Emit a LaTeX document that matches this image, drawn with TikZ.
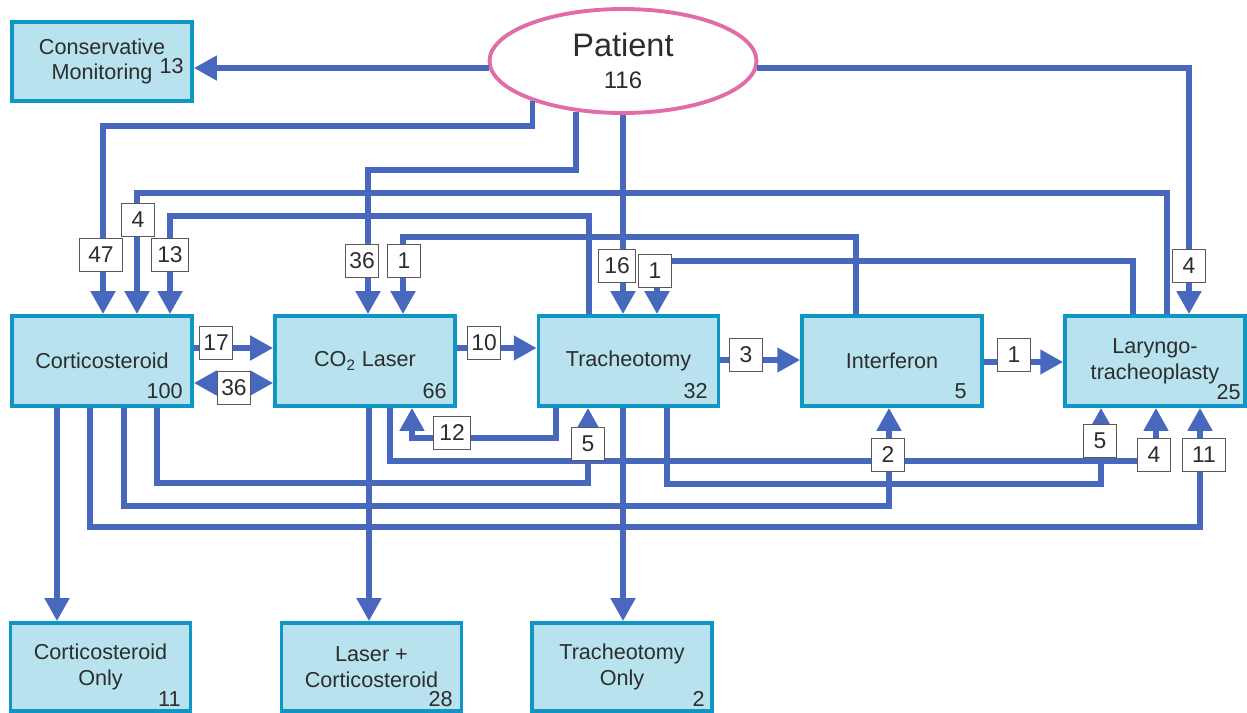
\documentclass[tikz,border=0pt]{standalone}
\usepackage{fontspec}
\setmainfont{Liberation Sans}
\usetikzlibrary{arrows.meta,shapes.geometric}
\definecolor{flowblue}{RGB}{72,104,190}
\definecolor{boxfill}{RGB}{183,226,238}
\definecolor{boxline}{RGB}{16,150,196}
\definecolor{patpink}{RGB}{226,108,168}
\definecolor{txtgray}{RGB}{45,45,45}
\begin{document}
\begin{tikzpicture}[x=0.02cm, y=-0.02cm,
    >={Triangle[width=13.5pt,length=13pt]},
    treat/.style={draw=boxline, fill=boxfill, line width=2.2pt, minimum width=3.6cm,
        minimum height=1.8cm, inner sep=0pt, align=center, text=txtgray,
        font=\fontsize{12.3}{14.7}\selectfont},
    boxnum/.style={anchor=base east, inner sep=0pt, text=txtgray,
        font=\fontsize{12.3}{14.7}\selectfont},
    flow/.style={draw=flowblue, line width=3pt, ->},
    nlabel/.style={draw=black!65, line width=0.6pt, fill=white, minimum width=0.66cm,
        minimum height=0.66cm, inner sep=1pt, text=txtgray,
        font=\fontsize{13}{13}\selectfont}
]
\useasboundingbox (0,0) rectangle (1247,713);

\node[treat, minimum height=1.58cm] (cons) at (102,61.5) {Conservative\\Monitoring};
\node[boxnum] (consn) at (184,74) {13};
\node[ellipse, draw=patpink, fill=white, line width=2.2pt, minimum width=5.34cm,
    minimum height=2.08cm, inner sep=0pt, align=center, text=txtgray,
    font=\fontsize{18.5}{18}\selectfont] (pat) at (623,61)
    {Patient\\{\fontsize{13.6}{13.6}\selectfont 116}};

\node[treat] (cort) at (102,361) {Corticosteroid};
\node[treat] (laser) at (365,361) {CO\textsubscript{2} Laser};
\node[treat] (trach) at (628.5,361) {Tracheotomy};
\node[treat] (intf) at (892,361) {Interferon};
\node[treat] (lary) at (1155,361) {Laryngo-\\tracheoplasty};
\node[boxnum] (cortn) at (183,398) {100};
\node[boxnum] (lasern) at (447,398) {66};
\node[boxnum] (trachn) at (708,398) {32};
\node[boxnum] (intfn) at (967,398) {5};
\node[boxnum] (laryn) at (1241,399) {25};

\node[treat, minimum height=1.76cm] (cortonly) at (100.5,667) {Corticosteroid\\Only};
\node[treat, minimum height=1.76cm] (lasercort) at (371.5,667) {Laser +\\Corticosteroid};
\node[treat, minimum height=1.76cm] (trachonly) at (622,667) {Tracheotomy\\Only};
\node[boxnum] (cortonlyn) at (181,706) {11};
\node[boxnum] (lasercortn) at (453,706) {28};
\node[boxnum] (trachonlyn) at (705,706) {2};

\draw[flow] (pat.183) -- (cons.east |- pat.183);
\draw[flow] (pat.-3) -| (lary.north -| 1189,0);
\draw[flow] (pat.204) |- (103,126) -- (cort.north -| 103,0);
\draw[flow] (lary.north -| 1167,0) |- (137,193) -- (cort.north -| 137,0);
\draw[flow] (trach.north -| 589,0) |- (170,216) -- (cort.north -| 170,0);
\draw[flow] (pat.227) |- (368,170) -- (laser.north -| 368,0);
\draw[flow] (intf.north -| 856,0) |- (403,237) -- (laser.north -| 403,0);
\draw[flow] (pat.south) -- (trach.north -| pat.south);
\draw[flow] (lary.north -| 1133,0) |- (657,261) -- (trach.north -| 657,0);

\draw[flow] (cort.east |- 0,348) -- (laser.west |- 0,348);
\draw[flow, <->] (cort.east |- 0,383) -- (laser.west |- 0,383);
\draw[flow] (laser.east |- 0,348) -- (trach.west |- 0,348);
\draw[flow] (trach.east |- 0,360) -- (intf.west |- 0,360);
\draw[flow] (intf.east |- 0,362) -- (lary.west |- 0,362);

\draw[flow] (cort.south -| 57,0) -- (cortonly.north -| 57,0);
\draw[flow] (laser.south -| 369,0) -- (lasercort.north -| 369,0);
\draw[flow] (trach.south -| 623,0) -- (trachonly.north -| 623,0);
\draw[flow] (trach.south -| 556,0) |- (412,438) -- (laser.south -| 412,0);
\draw[flow] (cort.south -| 157,0) |- (588,483) -- (trach.south -| 588,0);
\draw[flow] (cort.south -| 124,0) |- (889,506) -- (intf.south -| 889,0);
\draw[flow] (cort.south -| 90,0) |- (1200,527) -- (lary.south -| 1200,0);
\draw[flow] (trach.south -| 667,0) |- (1101,484) -- (lary.south -| 1101,0);
\draw[flow] (laser.south -| 390,0) |- (1156,461) -- (lary.south -| 1156,0);

\node[nlabel, minimum width=0.86cm] (l47) at (101,255) {47};
\node[nlabel] (l4a) at (138,220) {4};
\node[nlabel, minimum width=0.74cm] (l13) at (170,255) {13};
\node[nlabel] (l36a) at (362,261) {36};
\node[nlabel] (l1a) at (404,261) {1};
\node[nlabel, minimum width=0.74cm] (l16) at (617,266) {16};
\node[nlabel] (l1b) at (655,271) {1};
\node[nlabel] (l4b) at (1189,266) {4};
\node[nlabel] (l17) at (216,343) {17};
\node[nlabel] (l36b) at (234,388) {36};
\node[nlabel] (l10) at (484,343) {10};
\node[nlabel] (l3) at (746,355) {3};
\node[nlabel] (l1c) at (1014,355) {1};
\node[nlabel, minimum width=0.74cm] (l12) at (452,433) {12};
\node[nlabel] (l5a) at (588,444) {5};
\node[nlabel] (l2) at (888,455) {2};
\node[nlabel] (l5b) at (1100,441) {5};
\node[nlabel] (l4c) at (1154,455) {4};
\node[nlabel, minimum width=0.86cm] (l11) at (1204,455) {11};
\end{tikzpicture}
\end{document}
